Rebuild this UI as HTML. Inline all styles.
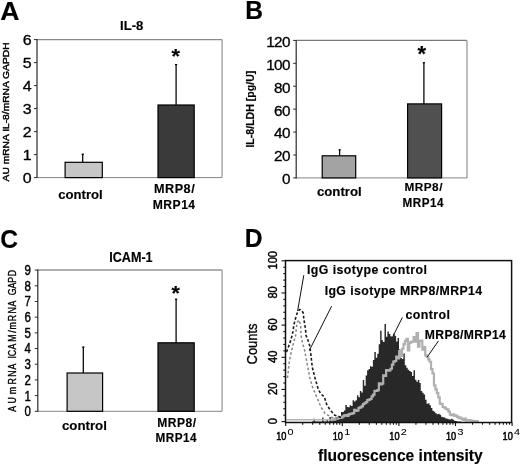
<!DOCTYPE html>
<html><head><meta charset="utf-8"><title>Figure</title>
<style>html,body{margin:0;padding:0;background:#fff;width:520px;height:465px;overflow:hidden;}
svg{filter:blur(0.3px);} svg text{font-family:"Liberation Sans", sans-serif;}</style></head>
<body>
<svg width="520" height="465" viewBox="0 0 520 465" style="position:absolute;left:0;top:0" font-family="Liberation Sans, sans-serif">
<rect width="520" height="465" fill="#fff"/>
<line x1="37.00" y1="39.60" x2="222.10" y2="39.60" stroke="#8a8a8a" stroke-width="1.2" />
<line x1="222.10" y1="39.60" x2="222.10" y2="177.60" stroke="#a2a2a2" stroke-width="1.4" />
<line x1="37.00" y1="177.60" x2="222.10" y2="177.60" stroke="#858585" stroke-width="1" />
<rect x="65.10" y="162.30" width="37.20" height="15.30" fill="#c6c6c6" stroke="#000" stroke-width="1.2"/>
<rect x="158.00" y="105.00" width="36.20" height="72.60" fill="#3a3a3a" stroke="#000" stroke-width="1.2"/>
<line x1="82.70" y1="162.30" x2="82.70" y2="153.70" stroke="#000" stroke-width="1.25" />
<line x1="81.60" y1="154.30" x2="83.80" y2="154.30" stroke="#000" stroke-width="1.2" />
<line x1="176.10" y1="105.00" x2="176.10" y2="64.00" stroke="#000" stroke-width="1.25" />
<line x1="175.00" y1="64.60" x2="177.20" y2="64.60" stroke="#000" stroke-width="1.2" />
<line x1="37.00" y1="39.10" x2="37.00" y2="178.10" stroke="#2a2a2a" stroke-width="1.2" />
<line x1="34.00" y1="177.60" x2="37.00" y2="177.60" stroke="#2a2a2a" stroke-width="1" />
<line x1="34.00" y1="154.60" x2="37.00" y2="154.60" stroke="#2a2a2a" stroke-width="1" />
<line x1="34.00" y1="131.60" x2="37.00" y2="131.60" stroke="#2a2a2a" stroke-width="1" />
<line x1="34.00" y1="108.60" x2="37.00" y2="108.60" stroke="#2a2a2a" stroke-width="1" />
<line x1="34.00" y1="85.60" x2="37.00" y2="85.60" stroke="#2a2a2a" stroke-width="1" />
<line x1="34.00" y1="62.60" x2="37.00" y2="62.60" stroke="#2a2a2a" stroke-width="1" />
<line x1="34.00" y1="39.60" x2="37.00" y2="39.60" stroke="#2a2a2a" stroke-width="1" />
<text transform="translate(0.17 19.60) scale(1.1094 1.0667)" font-size="24" font-weight="bold" fill="#000" stroke="#000" stroke-width="0.15">A</text>
<text transform="translate(120.11 30.10) scale(1.0476 1.0743)" font-size="12.5" font-weight="bold" fill="#000" stroke="#000" stroke-width="0.15">IL-8</text>
<text transform="translate(8.97 181.40) rotate(-90) scale(1.0256 0.9200)" font-size="10" font-weight="normal" fill="#000" stroke="#000" stroke-width="0.45">AU mRNA IL-8/mRNA GAPDH</text>
<text transform="translate(171.48 62.61) scale(1.2800 1.1840)" font-size="17" font-weight="bold" fill="#000" stroke="#000" stroke-width="0.15">*</text>
<text transform="translate(58.17 198.50) scale(1.0537 1.0333)" font-size="12.5" font-weight="bold" fill="#000" stroke="#000" stroke-width="0.15">control</text>
<text transform="translate(154.04 192.96) scale(1.0115 0.9730)" font-size="12.5" font-weight="bold" letter-spacing="0.5" fill="#000" stroke="#000" stroke-width="0.15">MRP8/</text>
<text transform="translate(152.77 208.60) scale(0.9698 1.0235)" font-size="12.5" font-weight="bold" letter-spacing="0.5" fill="#000" stroke="#000" stroke-width="0.15">MRP14</text>
<text transform="translate(22.73 183.40) scale(1.1407 1.0359)" font-size="14" font-weight="normal" fill="#000" stroke="#000" stroke-width="0.3">0</text>
<text transform="translate(22.73 160.40) scale(1.1407 1.0359)" font-size="14" font-weight="normal" fill="#000" stroke="#000" stroke-width="0.3">1</text>
<text transform="translate(22.73 137.40) scale(1.1407 1.0359)" font-size="14" font-weight="normal" fill="#000" stroke="#000" stroke-width="0.3">2</text>
<text transform="translate(22.73 114.40) scale(1.1407 1.0359)" font-size="14" font-weight="normal" fill="#000" stroke="#000" stroke-width="0.3">3</text>
<text transform="translate(22.73 91.40) scale(1.1407 1.0359)" font-size="14" font-weight="normal" fill="#000" stroke="#000" stroke-width="0.3">4</text>
<text transform="translate(22.73 68.40) scale(1.1407 1.0359)" font-size="14" font-weight="normal" fill="#000" stroke="#000" stroke-width="0.3">5</text>
<text transform="translate(22.73 45.40) scale(1.1407 1.0359)" font-size="14" font-weight="normal" fill="#000" stroke="#000" stroke-width="0.3">6</text>
<line x1="296.20" y1="40.40" x2="467.00" y2="40.40" stroke="#787878" stroke-width="1.2" />
<line x1="467.00" y1="40.40" x2="467.00" y2="177.90" stroke="#a2a2a2" stroke-width="1.4" />
<line x1="296.20" y1="177.90" x2="467.00" y2="177.90" stroke="#858585" stroke-width="1" />
<rect x="322.20" y="155.80" width="33.50" height="22.10" fill="#a3a3a3" stroke="#000" stroke-width="1.2"/>
<rect x="407.60" y="103.90" width="34.00" height="74.00" fill="#505050" stroke="#000" stroke-width="1.2"/>
<line x1="339.60" y1="155.80" x2="339.60" y2="149.30" stroke="#000" stroke-width="1.25" />
<line x1="338.50" y1="149.90" x2="340.70" y2="149.90" stroke="#000" stroke-width="1.2" />
<line x1="423.90" y1="103.90" x2="423.90" y2="62.20" stroke="#000" stroke-width="1.25" />
<line x1="422.80" y1="62.80" x2="425.00" y2="62.80" stroke="#000" stroke-width="1.2" />
<line x1="296.20" y1="39.90" x2="296.20" y2="178.40" stroke="#2a2a2a" stroke-width="1.2" />
<line x1="293.20" y1="177.90" x2="296.20" y2="177.90" stroke="#2a2a2a" stroke-width="1" />
<line x1="293.20" y1="154.98" x2="296.20" y2="154.98" stroke="#2a2a2a" stroke-width="1" />
<line x1="293.20" y1="132.07" x2="296.20" y2="132.07" stroke="#2a2a2a" stroke-width="1" />
<line x1="293.20" y1="109.15" x2="296.20" y2="109.15" stroke="#2a2a2a" stroke-width="1" />
<line x1="293.20" y1="86.23" x2="296.20" y2="86.23" stroke="#2a2a2a" stroke-width="1" />
<line x1="293.20" y1="63.32" x2="296.20" y2="63.32" stroke="#2a2a2a" stroke-width="1" />
<line x1="293.20" y1="40.40" x2="296.20" y2="40.40" stroke="#2a2a2a" stroke-width="1" />
<text transform="translate(245.26 19.30) scale(1.0237 1.0727)" font-size="24" font-weight="bold" fill="#000" stroke="#000" stroke-width="0.15">B</text>
<text transform="translate(254.37 147.56) rotate(-90) scale(1.0080 0.9900)" font-size="10.5" font-weight="bold" fill="#000" stroke="#000" stroke-width="0.15">IL-8/LDH [pg/U]</text>
<text transform="translate(417.38 60.93) scale(1.2960 1.2960)" font-size="17" font-weight="bold" fill="#000" stroke="#000" stroke-width="0.15">*</text>
<text transform="translate(316.97 196.20) scale(1.0561 0.9667)" font-size="12.5" font-weight="bold" fill="#000" stroke="#000" stroke-width="0.15">control</text>
<text transform="translate(404.49 190.96) scale(0.9452 0.9405)" font-size="12.5" font-weight="bold" letter-spacing="0.5" fill="#000" stroke="#000" stroke-width="0.15">MRP8/</text>
<text transform="translate(402.60 206.70) scale(0.9349 1.0118)" font-size="12.5" font-weight="bold" letter-spacing="0.5" fill="#000" stroke="#000" stroke-width="0.15">MRP14</text>
<text transform="translate(281.91 184.30) scale(1.0927 0.9949)" font-size="14" font-weight="normal" letter-spacing="-0.6" fill="#000" stroke="#000" stroke-width="0.3">0</text>
<text transform="translate(274.06 161.38) scale(1.0927 0.9949)" font-size="14" font-weight="normal" letter-spacing="-0.6" fill="#000" stroke="#000" stroke-width="0.3">20</text>
<text transform="translate(274.06 138.47) scale(1.0927 0.9949)" font-size="14" font-weight="normal" letter-spacing="-0.6" fill="#000" stroke="#000" stroke-width="0.3">40</text>
<text transform="translate(274.06 115.55) scale(1.0927 0.9949)" font-size="14" font-weight="normal" letter-spacing="-0.6" fill="#000" stroke="#000" stroke-width="0.3">60</text>
<text transform="translate(274.06 92.63) scale(1.0927 0.9949)" font-size="14" font-weight="normal" letter-spacing="-0.6" fill="#000" stroke="#000" stroke-width="0.3">80</text>
<text transform="translate(266.21 69.72) scale(1.0927 0.9949)" font-size="14" font-weight="normal" letter-spacing="-0.6" fill="#000" stroke="#000" stroke-width="0.3">100</text>
<text transform="translate(266.21 46.80) scale(1.0927 0.9949)" font-size="14" font-weight="normal" letter-spacing="-0.6" fill="#000" stroke="#000" stroke-width="0.3">120</text>
<line x1="37.80" y1="270.10" x2="222.10" y2="270.10" stroke="#969696" stroke-width="1.5" />
<line x1="222.10" y1="270.10" x2="222.10" y2="411.30" stroke="#a2a2a2" stroke-width="1.4" />
<line x1="37.80" y1="411.30" x2="222.10" y2="411.30" stroke="#858585" stroke-width="1" />
<rect x="67.10" y="373.00" width="35.50" height="38.30" fill="#c6c6c6" stroke="#000" stroke-width="1.2"/>
<rect x="158.00" y="342.80" width="36.20" height="68.50" fill="#3a3a3a" stroke="#000" stroke-width="1.2"/>
<line x1="83.30" y1="373.00" x2="83.30" y2="346.60" stroke="#000" stroke-width="1.25" />
<line x1="82.20" y1="347.20" x2="84.40" y2="347.20" stroke="#000" stroke-width="1.2" />
<line x1="176.10" y1="342.80" x2="176.10" y2="298.70" stroke="#000" stroke-width="1.25" />
<line x1="175.00" y1="299.30" x2="177.20" y2="299.30" stroke="#000" stroke-width="1.2" />
<line x1="37.80" y1="269.60" x2="37.80" y2="411.80" stroke="#2a2a2a" stroke-width="1.2" />
<line x1="34.80" y1="411.30" x2="37.80" y2="411.30" stroke="#2a2a2a" stroke-width="1" />
<line x1="34.80" y1="395.61" x2="37.80" y2="395.61" stroke="#2a2a2a" stroke-width="1" />
<line x1="34.80" y1="379.92" x2="37.80" y2="379.92" stroke="#2a2a2a" stroke-width="1" />
<line x1="34.80" y1="364.23" x2="37.80" y2="364.23" stroke="#2a2a2a" stroke-width="1" />
<line x1="34.80" y1="348.54" x2="37.80" y2="348.54" stroke="#2a2a2a" stroke-width="1" />
<line x1="34.80" y1="332.86" x2="37.80" y2="332.86" stroke="#2a2a2a" stroke-width="1" />
<line x1="34.80" y1="317.17" x2="37.80" y2="317.17" stroke="#2a2a2a" stroke-width="1" />
<line x1="34.80" y1="301.48" x2="37.80" y2="301.48" stroke="#2a2a2a" stroke-width="1" />
<line x1="34.80" y1="285.79" x2="37.80" y2="285.79" stroke="#2a2a2a" stroke-width="1" />
<line x1="34.80" y1="270.10" x2="37.80" y2="270.10" stroke="#2a2a2a" stroke-width="1" />
<text transform="translate(0.37 247.53) scale(1.0258 1.0941)" font-size="24" font-weight="bold" fill="#000" stroke="#000" stroke-width="0.15">C</text>
<text transform="translate(109.17 261.90) scale(0.9348 1.0526)" font-size="13.5" font-weight="bold" fill="#000" stroke="#000" stroke-width="0.15">ICAM-1</text>
<text transform="translate(15.8 0) rotate(-90) scale(0.88 1.0)" x="-467.94 -458.44 -447.97 -436.97 -428.16 -419.76 -407.47 -404.81 -397.20 -388.26 -378.21 -374.51 -365.04 -356.17 -348.39 -335.47 -327.77 -321.32 -314.01" y="0" font-size="10.0" stroke="#000" stroke-width="0.35">AUmRNAICAM/mRNAGAPD</text>
<text transform="translate(171.48 299.58) scale(1.2640 1.2320)" font-size="17" font-weight="bold" fill="#000" stroke="#000" stroke-width="0.15">*</text>
<text transform="translate(61.97 429.80) scale(1.0610 0.9778)" font-size="12.5" font-weight="bold" fill="#000" stroke="#000" stroke-width="0.15">control</text>
<text transform="translate(157.18 426.86) scale(0.9656 0.9730)" font-size="12.5" font-weight="bold" letter-spacing="0.5" fill="#000" stroke="#000" stroke-width="0.15">MRP8/</text>
<text transform="translate(155.60 442.30) scale(0.9395 1.0118)" font-size="12.5" font-weight="bold" letter-spacing="0.5" fill="#000" stroke="#000" stroke-width="0.15">MRP14</text>
<text transform="translate(24.44 416.20) scale(0.9167 1.1200)" font-size="12.5" font-weight="normal" fill="#000" stroke="#000" stroke-width="0.4">0</text>
<text transform="translate(24.44 400.51) scale(0.9167 1.1200)" font-size="12.5" font-weight="normal" fill="#000" stroke="#000" stroke-width="0.4">1</text>
<text transform="translate(24.44 384.82) scale(0.9167 1.1200)" font-size="12.5" font-weight="normal" fill="#000" stroke="#000" stroke-width="0.4">2</text>
<text transform="translate(24.44 369.13) scale(0.9167 1.1200)" font-size="12.5" font-weight="normal" fill="#000" stroke="#000" stroke-width="0.4">3</text>
<text transform="translate(24.44 353.44) scale(0.9167 1.1200)" font-size="12.5" font-weight="normal" fill="#000" stroke="#000" stroke-width="0.4">4</text>
<text transform="translate(24.44 337.76) scale(0.9167 1.1200)" font-size="12.5" font-weight="normal" fill="#000" stroke="#000" stroke-width="0.4">5</text>
<text transform="translate(24.44 322.07) scale(0.9167 1.1200)" font-size="12.5" font-weight="normal" fill="#000" stroke="#000" stroke-width="0.4">6</text>
<text transform="translate(24.44 306.38) scale(0.9167 1.1200)" font-size="12.5" font-weight="normal" fill="#000" stroke="#000" stroke-width="0.4">7</text>
<text transform="translate(24.44 290.69) scale(0.9167 1.1200)" font-size="12.5" font-weight="normal" fill="#000" stroke="#000" stroke-width="0.4">8</text>
<text transform="translate(24.44 275.00) scale(0.9167 1.1200)" font-size="12.5" font-weight="normal" fill="#000" stroke="#000" stroke-width="0.4">9</text>
<path d="M312.00,422.50L312.00,421.60L313.45,421.60L313.45,418.70L314.90,418.70L314.90,421.60L316.35,421.60L316.35,421.60L317.80,421.60L317.80,421.60L319.25,421.60L319.25,421.60L320.70,421.60L320.70,421.60L322.15,421.60L322.15,417.50L323.60,417.50L323.60,421.60L325.05,421.60L325.05,421.60L326.50,421.60L326.50,419.50L327.95,419.50L327.95,421.60L329.40,421.60L329.40,417.00L330.85,417.00L330.85,421.04L332.30,421.04L332.30,419.56L333.75,419.56L333.75,419.09L335.20,419.09L335.20,417.55L336.65,417.55L336.65,416.95L338.10,416.95L338.10,415.85L339.55,415.85L339.55,415.96L341.00,415.96L341.00,411.90L342.45,411.90L342.45,411.91L343.90,411.91L343.90,410.59L345.35,410.59L345.35,405.01L346.80,405.01L346.80,407.09L348.25,407.09L348.25,407.23L349.70,407.23L349.70,405.25L351.15,405.25L351.15,405.96L352.60,405.96L352.60,400.15L354.05,400.15L354.05,401.41L355.50,401.41L355.50,400.31L356.95,400.31L356.95,395.32L358.40,395.32L358.40,397.36L359.85,397.36L359.85,390.89L361.30,390.89L361.30,392.43L362.75,392.43L362.75,380.00L364.20,380.00L364.20,385.63L365.65,385.63L365.65,375.46L367.10,375.46L367.10,370.32L368.55,370.32L368.55,369.00L370.00,369.00L370.00,366.36L371.45,366.36L371.45,366.78L372.90,366.78L372.90,360.09L374.35,360.09L374.35,352.00L375.80,352.00L375.80,357.76L377.25,357.76L377.25,353.82L378.70,353.82L378.70,344.28L380.15,344.28L380.15,330.87L381.60,330.87L381.60,340.33L383.05,340.33L383.05,341.91L384.50,341.91L384.50,324.00L385.95,324.00L385.95,336.65L387.40,336.65L387.40,331.50L388.85,331.50L388.85,334.09L390.30,334.09L390.30,336.31L391.75,336.31L391.75,337.09L393.20,337.09L393.20,333.50L394.65,333.50L394.65,335.72L396.10,335.72L396.10,341.60L397.55,341.60L397.55,337.97L399.00,337.97L399.00,349.38L400.45,349.38L400.45,358.05L401.90,358.05L401.90,358.97L403.35,358.97L403.35,353.48L404.80,353.48L404.80,365.23L406.25,365.23L406.25,367.70L407.70,367.70L407.70,369.73L409.15,369.73L409.15,371.02L410.60,371.02L410.60,371.91L412.05,371.91L412.05,375.89L413.50,375.89L413.50,370.34L414.95,370.34L414.95,379.63L416.40,379.63L416.40,381.66L417.85,381.66L417.85,380.06L419.30,380.06L419.30,383.02L420.75,383.02L420.75,391.04L422.20,391.04L422.20,392.71L423.65,392.71L423.65,394.62L425.10,394.62L425.10,399.66L426.55,399.66L426.55,403.84L428.00,403.84L428.00,403.13L429.45,403.13L429.45,405.23L430.90,405.23L430.90,407.91L432.35,407.91L432.35,410.74L433.80,410.74L433.80,411.65L435.25,411.65L435.25,413.33L436.70,413.33L436.70,414.28L438.15,414.28L438.15,413.77L439.60,413.77L439.60,414.78L441.05,414.78L441.05,416.80L442.50,416.80L442.50,417.28L443.95,417.28L443.95,417.54L445.40,417.54L445.40,418.41L446.85,418.41L446.85,418.77L448.30,418.77L448.30,419.31L449.75,419.31L449.75,419.50L451.20,419.50L451.20,418.67L452.65,418.67L452.65,419.83L454.10,419.83L454.10,420.69L455.55,420.69L455.55,421.09L457.00,421.09L457.00,421.48L458.45,421.48L458.45,421.60L459.90,421.60L459.90,421.60L461.35,421.60L461.35,422.50Z" fill="#282828"/>
<path d="M331.00,420.12L332.45,420.12L332.45,419.23L333.90,419.23L333.90,419.55L335.35,419.55L335.35,418.55L336.80,418.55L336.80,418.60L338.25,418.60L338.25,417.26L339.70,417.26L339.70,417.93L341.15,417.93L341.15,417.32L342.60,417.32L342.60,416.41L344.05,416.41L344.05,415.32L345.50,415.32L345.50,415.10L346.95,415.10L346.95,415.93L348.40,415.93L348.40,414.28L349.85,414.28L349.85,413.87L351.30,413.87L351.30,413.72L352.75,413.72L352.75,413.08L354.20,413.08L354.20,409.75L355.65,409.75L355.65,410.93L357.10,410.93L357.10,410.48L358.55,410.48L358.55,407.82L360.00,407.82L360.00,407.42L361.45,407.42L361.45,406.47L362.90,406.47L362.90,404.11L364.35,404.11L364.35,403.27L365.80,403.27L365.80,402.22L367.25,402.22L367.25,400.07L368.70,400.07L368.70,399.66L370.15,399.66L370.15,398.98L371.60,398.98L371.60,396.41L373.05,396.41L373.05,394.57L374.50,394.57L374.50,390.86L375.95,390.86L375.95,390.97L377.40,390.97L377.40,390.19L378.85,390.19L378.85,383.46L380.30,383.46L380.30,384.41L381.75,384.41L381.75,383.63L383.20,383.63L383.20,375.34L384.65,375.34L384.65,375.81L386.10,375.81L386.10,370.17L387.55,370.17L387.55,370.70L389.00,370.70L389.00,370.30L390.45,370.30L390.45,368.74L391.90,368.74L391.90,364.58L393.35,364.58L393.35,361.71L394.80,361.71L394.80,360.99L396.25,360.99L396.25,356.71L397.70,356.71L397.70,358.51L399.15,358.51L399.15,351.15L400.60,351.15L400.60,355.81L402.05,355.81L402.05,348.74L403.50,348.74L403.50,344.16L404.95,344.16L404.95,340.81L406.40,340.81L406.40,338.90L407.85,338.90L407.85,350.30L409.30,350.30L409.30,342.88L410.75,342.88L410.75,341.78L412.20,341.78L412.20,341.72L413.65,341.72L413.65,337.00L415.10,337.00L415.10,341.55L416.55,341.55L416.55,333.00L418.00,333.00L418.00,346.69L419.45,346.69L419.45,340.91L420.90,340.91L420.90,340.63L422.35,340.63L422.35,349.56L423.80,349.56L423.80,347.18L425.25,347.18L425.25,355.43L426.70,355.43L426.70,356.98L428.15,356.98L428.15,359.44L429.60,359.44L429.60,361.76L431.05,361.76L431.05,369.15L432.50,369.15L432.50,373.50L433.95,373.50L433.95,385.36L435.40,385.36L435.40,389.37L436.85,389.37L436.85,393.15L438.30,393.15L438.30,397.39L439.75,397.39L439.75,403.71L441.20,403.71L441.20,404.02L442.65,404.02L442.65,406.99L444.10,406.99L444.10,407.36L445.55,407.36L445.55,408.94L447.00,408.94L447.00,409.37L448.45,409.37L448.45,411.64L449.90,411.64L449.90,414.56L451.35,414.56L451.35,415.13L452.80,415.13L452.80,414.34L454.25,414.34L454.25,415.83L455.70,415.83L455.70,415.59L457.15,415.59L457.15,416.92L458.60,416.92L458.60,418.10L460.05,418.10L460.05,417.55L461.50,417.55L461.50,419.00L462.95,419.00L462.95,419.98L464.40,419.98L464.40,418.70L465.85,418.70L465.85,420.66L467.30,420.66L467.30,420.07L468.75,420.07L468.75,420.21L470.20,420.21L470.20,420.66L471.65,420.66L471.65,421.10L473.10,421.10L473.10,420.91L474.55,420.91L474.55,421.10L476.00,421.10L476.00,421.10L477.45,421.10L477.45,421.10L478.90,421.10" fill="none" stroke="#b0b0b0" stroke-width="2.2"/>
<path d="M286.3,419.7 L331.5,419.7" stroke="#b4b4b4" stroke-width="1.4" fill="none"/>
<polyline points="287.5,378 288.3,370.8 289.2,362.2 290.9,353.6 293,345 295.8,334.4 296.3,327.9 297.5,322 299,320 300.6,325 301.2,336.5 302.5,343 304.6,350.2 307,363 309.8,377.6 312.5,387 315.8,394.8 320.9,406.9 325.2,413.7 332,417.5 340,419" fill="none" stroke="#858585" stroke-width="1.5" stroke-dasharray="2.5,2.2"/>
<polyline points="286.5,352 288.3,347.2 289.9,343 291.5,337.6 293.1,331.1 293.7,325.8 294.7,321.5 296.5,315 298,311 300,309.5 302,311 303.3,313 303.8,319 305.5,329 306,335.4 308.2,340.8 309.8,346 311,356 312.3,367.3 315,378 318.4,389.7 321,394 324.3,397 326.7,404.5 330.2,410 334.8,415.2 342.6,418" fill="none" stroke="#1a1a1a" stroke-width="1.6" stroke-dasharray="2.8,2.0"/>
<line x1="303.80" y1="275.20" x2="297.60" y2="311.00" stroke="#111" stroke-width="1" />
<line x1="331.60" y1="306.20" x2="309.30" y2="350.50" stroke="#111" stroke-width="1" />
<line x1="402.40" y1="317.40" x2="392.50" y2="337.20" stroke="#111" stroke-width="1" />
<line x1="438.40" y1="341.00" x2="427.20" y2="357.00" stroke="#111" stroke-width="1" />
<text transform="translate(244.65 247.30) scale(1.0305 1.0909)" font-size="24" font-weight="bold" fill="#000" stroke="#000" stroke-width="0.15">D</text>
<text transform="translate(306.98 274.39) scale(1.0304 1.0044)" font-size="12" font-weight="bold" letter-spacing="0.4" fill="#000" stroke="#000" stroke-width="0.15">IgG isotype control</text>
<text transform="translate(324.63 294.67) scale(1.0255 1.0133)" font-size="12" font-weight="bold" letter-spacing="0.4" fill="#000" stroke="#000" stroke-width="0.15">IgG isotype MRP8/MRP14</text>
<text transform="translate(405.48 319.10) scale(1.0347 1.0171)" font-size="12" font-weight="bold" letter-spacing="0.4" fill="#000" stroke="#000" stroke-width="0.15">control</text>
<text transform="translate(424.74 338.54) scale(1.0113 1.0556)" font-size="12" font-weight="bold" letter-spacing="0.4" fill="#000" stroke="#000" stroke-width="0.15">MRP8/MRP14</text>
<text transform="translate(318.05 460.73) scale(1.0070 1.0690)" font-size="15.5" font-weight="bold" fill="#000" stroke="#000" stroke-width="0.15">fluorescence intensity</text>
<text transform="translate(256.60 364.39) rotate(-90) scale(1.0517 1.1176)" font-size="12.3" font-weight="normal" fill="#000" stroke="#000" stroke-width="0.3">Counts</text>
<rect x="285.5" y="260.6" width="226.10000000000002" height="161.89999999999998" fill="none" stroke="#111" stroke-width="1.5"/>
<line x1="281.50" y1="421.60" x2="285.50" y2="421.60" stroke="#111" stroke-width="1.1" />
<line x1="283.30" y1="415.17" x2="285.50" y2="415.17" stroke="#111" stroke-width="1.1" />
<line x1="283.30" y1="408.74" x2="285.50" y2="408.74" stroke="#111" stroke-width="1.1" />
<line x1="283.30" y1="402.30" x2="285.50" y2="402.30" stroke="#111" stroke-width="1.1" />
<line x1="283.30" y1="395.87" x2="285.50" y2="395.87" stroke="#111" stroke-width="1.1" />
<line x1="281.50" y1="389.44" x2="285.50" y2="389.44" stroke="#111" stroke-width="1.1" />
<line x1="283.30" y1="383.01" x2="285.50" y2="383.01" stroke="#111" stroke-width="1.1" />
<line x1="283.30" y1="376.58" x2="285.50" y2="376.58" stroke="#111" stroke-width="1.1" />
<line x1="283.30" y1="370.14" x2="285.50" y2="370.14" stroke="#111" stroke-width="1.1" />
<line x1="283.30" y1="363.71" x2="285.50" y2="363.71" stroke="#111" stroke-width="1.1" />
<line x1="281.50" y1="357.28" x2="285.50" y2="357.28" stroke="#111" stroke-width="1.1" />
<line x1="283.30" y1="350.85" x2="285.50" y2="350.85" stroke="#111" stroke-width="1.1" />
<line x1="283.30" y1="344.42" x2="285.50" y2="344.42" stroke="#111" stroke-width="1.1" />
<line x1="283.30" y1="337.98" x2="285.50" y2="337.98" stroke="#111" stroke-width="1.1" />
<line x1="283.30" y1="331.55" x2="285.50" y2="331.55" stroke="#111" stroke-width="1.1" />
<line x1="281.50" y1="325.12" x2="285.50" y2="325.12" stroke="#111" stroke-width="1.1" />
<line x1="283.30" y1="318.69" x2="285.50" y2="318.69" stroke="#111" stroke-width="1.1" />
<line x1="283.30" y1="312.26" x2="285.50" y2="312.26" stroke="#111" stroke-width="1.1" />
<line x1="283.30" y1="305.82" x2="285.50" y2="305.82" stroke="#111" stroke-width="1.1" />
<line x1="283.30" y1="299.39" x2="285.50" y2="299.39" stroke="#111" stroke-width="1.1" />
<line x1="281.50" y1="292.96" x2="285.50" y2="292.96" stroke="#111" stroke-width="1.1" />
<line x1="283.30" y1="286.53" x2="285.50" y2="286.53" stroke="#111" stroke-width="1.1" />
<line x1="283.30" y1="280.10" x2="285.50" y2="280.10" stroke="#111" stroke-width="1.1" />
<line x1="283.30" y1="273.66" x2="285.50" y2="273.66" stroke="#111" stroke-width="1.1" />
<line x1="283.30" y1="267.23" x2="285.50" y2="267.23" stroke="#111" stroke-width="1.1" />
<line x1="281.50" y1="260.80" x2="285.50" y2="260.80" stroke="#111" stroke-width="1.1" />
<text transform="translate(277.40 424.13) rotate(-90) scale(1.1161 1.2143)" font-size="10" font-weight="normal" fill="#000" stroke="#000" stroke-width="0.35">0</text>
<text transform="translate(277.40 395.07) rotate(-90) scale(1.1161 1.2143)" font-size="10" font-weight="normal" fill="#000" stroke="#000" stroke-width="0.35">20</text>
<text transform="translate(277.40 362.91) rotate(-90) scale(1.1161 1.2143)" font-size="10" font-weight="normal" fill="#000" stroke="#000" stroke-width="0.35">40</text>
<text transform="translate(277.40 330.75) rotate(-90) scale(1.1161 1.2143)" font-size="10" font-weight="normal" fill="#000" stroke="#000" stroke-width="0.35">60</text>
<text transform="translate(277.40 298.59) rotate(-90) scale(1.1161 1.2143)" font-size="10" font-weight="normal" fill="#000" stroke="#000" stroke-width="0.35">80</text>
<text transform="translate(277.40 269.54) rotate(-90) scale(1.1161 1.2143)" font-size="10" font-weight="normal" fill="#000" stroke="#000" stroke-width="0.35">100</text>
<line x1="285.70" y1="422.50" x2="285.70" y2="426.00" stroke="#111" stroke-width="1.1" />
<line x1="302.74" y1="422.50" x2="302.74" y2="424.70" stroke="#111" stroke-width="1.1" />
<line x1="312.71" y1="422.50" x2="312.71" y2="424.70" stroke="#111" stroke-width="1.1" />
<line x1="319.78" y1="422.50" x2="319.78" y2="424.70" stroke="#111" stroke-width="1.1" />
<line x1="325.26" y1="422.50" x2="325.26" y2="424.70" stroke="#111" stroke-width="1.1" />
<line x1="329.74" y1="422.50" x2="329.74" y2="424.70" stroke="#111" stroke-width="1.1" />
<line x1="333.53" y1="422.50" x2="333.53" y2="424.70" stroke="#111" stroke-width="1.1" />
<line x1="336.81" y1="422.50" x2="336.81" y2="424.70" stroke="#111" stroke-width="1.1" />
<line x1="339.71" y1="422.50" x2="339.71" y2="424.70" stroke="#111" stroke-width="1.1" />
<line x1="342.30" y1="422.50" x2="342.30" y2="426.00" stroke="#111" stroke-width="1.1" />
<line x1="359.34" y1="422.50" x2="359.34" y2="424.70" stroke="#111" stroke-width="1.1" />
<line x1="369.31" y1="422.50" x2="369.31" y2="424.70" stroke="#111" stroke-width="1.1" />
<line x1="376.38" y1="422.50" x2="376.38" y2="424.70" stroke="#111" stroke-width="1.1" />
<line x1="381.86" y1="422.50" x2="381.86" y2="424.70" stroke="#111" stroke-width="1.1" />
<line x1="386.34" y1="422.50" x2="386.34" y2="424.70" stroke="#111" stroke-width="1.1" />
<line x1="390.13" y1="422.50" x2="390.13" y2="424.70" stroke="#111" stroke-width="1.1" />
<line x1="393.41" y1="422.50" x2="393.41" y2="424.70" stroke="#111" stroke-width="1.1" />
<line x1="396.31" y1="422.50" x2="396.31" y2="424.70" stroke="#111" stroke-width="1.1" />
<line x1="398.90" y1="422.50" x2="398.90" y2="426.00" stroke="#111" stroke-width="1.1" />
<line x1="415.94" y1="422.50" x2="415.94" y2="424.70" stroke="#111" stroke-width="1.1" />
<line x1="425.91" y1="422.50" x2="425.91" y2="424.70" stroke="#111" stroke-width="1.1" />
<line x1="432.98" y1="422.50" x2="432.98" y2="424.70" stroke="#111" stroke-width="1.1" />
<line x1="438.46" y1="422.50" x2="438.46" y2="424.70" stroke="#111" stroke-width="1.1" />
<line x1="442.94" y1="422.50" x2="442.94" y2="424.70" stroke="#111" stroke-width="1.1" />
<line x1="446.73" y1="422.50" x2="446.73" y2="424.70" stroke="#111" stroke-width="1.1" />
<line x1="450.01" y1="422.50" x2="450.01" y2="424.70" stroke="#111" stroke-width="1.1" />
<line x1="452.91" y1="422.50" x2="452.91" y2="424.70" stroke="#111" stroke-width="1.1" />
<line x1="455.50" y1="422.50" x2="455.50" y2="426.00" stroke="#111" stroke-width="1.1" />
<line x1="472.54" y1="422.50" x2="472.54" y2="424.70" stroke="#111" stroke-width="1.1" />
<line x1="482.51" y1="422.50" x2="482.51" y2="424.70" stroke="#111" stroke-width="1.1" />
<line x1="489.58" y1="422.50" x2="489.58" y2="424.70" stroke="#111" stroke-width="1.1" />
<line x1="495.06" y1="422.50" x2="495.06" y2="424.70" stroke="#111" stroke-width="1.1" />
<line x1="499.54" y1="422.50" x2="499.54" y2="424.70" stroke="#111" stroke-width="1.1" />
<line x1="503.33" y1="422.50" x2="503.33" y2="424.70" stroke="#111" stroke-width="1.1" />
<line x1="506.61" y1="422.50" x2="506.61" y2="424.70" stroke="#111" stroke-width="1.1" />
<line x1="509.51" y1="422.50" x2="509.51" y2="424.70" stroke="#111" stroke-width="1.1" />
<line x1="512.10" y1="422.50" x2="512.10" y2="426.00" stroke="#111" stroke-width="1.1" />
<text transform="translate(276.14 440.00) scale(0.8762 1.0621)" font-size="10.5" font-weight="normal" fill="#000" stroke="#000" stroke-width="0.5">10</text>
<text transform="translate(287.60 435.40) scale(1.3500 1.0727)" font-size="8" font-weight="normal" fill="#000" stroke="#000" stroke-width="0.05">0</text>
<text transform="translate(332.74 440.00) scale(0.8762 1.0621)" font-size="10.5" font-weight="normal" fill="#000" stroke="#000" stroke-width="0.5">10</text>
<text transform="translate(344.20 435.40) scale(1.3500 1.0727)" font-size="8" font-weight="normal" fill="#000" stroke="#000" stroke-width="0.05">1</text>
<text transform="translate(389.34 440.00) scale(0.8762 1.0621)" font-size="10.5" font-weight="normal" fill="#000" stroke="#000" stroke-width="0.5">10</text>
<text transform="translate(400.80 435.40) scale(1.3500 1.0727)" font-size="8" font-weight="normal" fill="#000" stroke="#000" stroke-width="0.05">2</text>
<text transform="translate(445.94 440.00) scale(0.8762 1.0621)" font-size="10.5" font-weight="normal" fill="#000" stroke="#000" stroke-width="0.5">10</text>
<text transform="translate(457.40 435.40) scale(1.3500 1.0727)" font-size="8" font-weight="normal" fill="#000" stroke="#000" stroke-width="0.05">3</text>
<text transform="translate(502.54 440.00) scale(0.8762 1.0621)" font-size="10.5" font-weight="normal" fill="#000" stroke="#000" stroke-width="0.5">10</text>
<text transform="translate(514.00 435.40) scale(1.3500 1.0727)" font-size="8" font-weight="normal" fill="#000" stroke="#000" stroke-width="0.05">4</text>
</svg>
</body></html>
